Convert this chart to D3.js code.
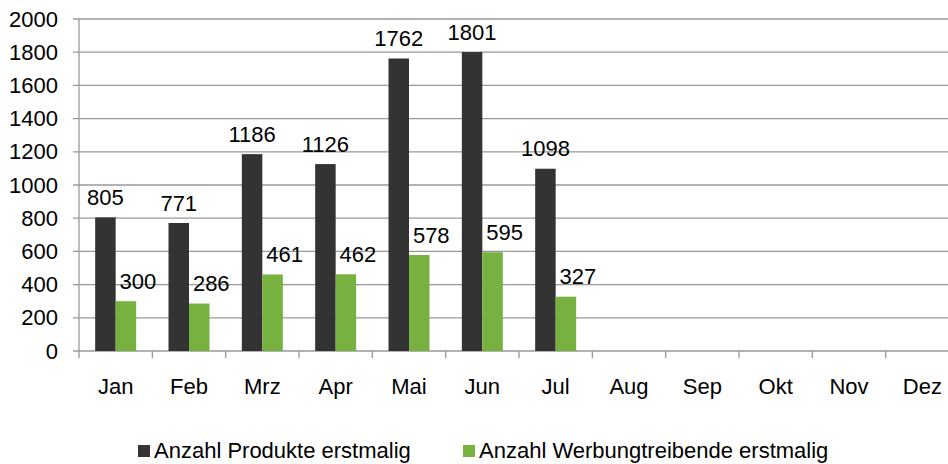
<!DOCTYPE html>
<html>
<head>
<meta charset="utf-8">
<script src="https://cdn.jsdelivr.net/npm/d3@7"></script>
<style>
  body { margin: 0; background: #fff; }
  text { font-family: "Liberation Sans", Arial, sans-serif; fill: #000; }
</style>
</head>
<body>
<svg id="chart" width="948" height="464"></svg>
<script>
const MONTHS = ["Jan", "Feb", "Mrz", "Apr", "Mai", "Jun", "Jul", "Aug", "Sep", "Okt", "Nov", "Dez"]
const SERIES = ["Anzahl Produkte erstmalig", "Anzahl Werbungtreibende erstmalig"]
const PRODUKTE = [805, 771, 1186, 1126, 1762, 1801, 1098, null, null, null, null, null]
const WERBUNG = [300, 286, 461, 462, 578, 595, 327, null, null, null, null, null]
const Y_TICKS = [0, 200, 400, 600, 800, 1000, 1200, 1400, 1600, 1800, 2000]
const COLORS = ["#333333", "#77b13f"]

const svg = d3.select('#chart')
const fontSize = 22

// plot area (right edge runs past the picture, like the original crop)
const plotLeft = 79, plotRight = 959, plotTop = 19, plotBottom = 351

const x = d3.scaleBand().domain(MONTHS).range([plotLeft, plotRight])
const inner = d3.scaleBand().domain(SERIES).range([0, 41]).padding(0)
const groupOffset = (x.bandwidth() - 41) / 2
const y = d3.scaleLinear().domain([0, 2000]).range([plotBottom, plotTop])

// gridlines
svg.append('g')
  .selectAll('line')
  .data(Y_TICKS)
  .join('line')
  .attr('x1', plotLeft - 6)
  .attr('x2', plotRight)
  .attr('y1', d => y(d))
  .attr('y2', d => y(d))
  .attr('stroke', '#999')
  .attr('stroke-width', 1.3)

// y axis labels
svg.append('g')
  .selectAll('text')
  .data(Y_TICKS)
  .join('text')
  .attr('x', 58)
  .attr('y', d => y(d))
  .attr('text-anchor', 'end')
  .attr('dominant-baseline', 'central')
  .style('font-size', fontSize + 'px')
  .text(d => d)

// y axis line
svg.append('line')
  .attr('x1', plotLeft).attr('x2', plotLeft)
  .attr('y1', plotTop).attr('y2', plotBottom)
  .attr('stroke', '#999').attr('stroke-width', 1.3)

// x axis ticks
svg.append('g')
  .selectAll('line')
  .data(d3.range(MONTHS.length + 1))
  .join('line')
  .attr('x1', i => plotLeft + i * x.step())
  .attr('x2', i => plotLeft + i * x.step())
  .attr('y1', plotBottom)
  .attr('y2', plotBottom + 7)
  .attr('stroke', '#999').attr('stroke-width', 1.3)

svg.append('g')
  .selectAll('text')
  .data(MONTHS)
  .join('text')
  .attr('x', d => x(d) + x.bandwidth() / 2)
  .attr('y', 394)
  .attr('text-anchor', 'middle')
  .style('font-size', fontSize + 'px')
  .text(d => d)

// bars
const rows = []
MONTHS.forEach((m, i) => {
  if (PRODUKTE[i] != null) rows.push({ month: m, series: SERIES[0], value: PRODUKTE[i], idx: 0 })
  if (WERBUNG[i] != null) rows.push({ month: m, series: SERIES[1], value: WERBUNG[i], idx: 1 })
})

svg.append('g')
  .selectAll('rect')
  .data(rows)
  .join('rect')
  .attr('x', d => x(d.month) + groupOffset + inner(d.series))
  .attr('y', d => y(d.value))
  .attr('width', inner.bandwidth())
  .attr('height', d => plotBottom - y(d.value))
  .attr('fill', d => COLORS[d.idx])

// value labels (green ones sit slightly right of their bar)
svg.append('g')
  .selectAll('text')
  .data(rows)
  .join('text')
  .attr('x', d => x(d.month) + groupOffset + inner(d.series) + inner.bandwidth() / 2 + (d.idx === 1 ? 12 : 0))
  .attr('y', d => y(d.value) - 20)
  .attr('text-anchor', 'middle')
  .attr('dominant-baseline', 'central')
  .style('font-size', fontSize + 'px')
  .text(d => d.value)

// legend
const legendItems = [{ x: 138, label: SERIES[0], color: COLORS[0] }, { x: 463, label: SERIES[1], color: COLORS[1] }]
const legend = svg.append('g')
legend.selectAll('rect')
  .data(legendItems)
  .join('rect')
  .attr('x', d => d.x)
  .attr('y', 445)
  .attr('width', 12)
  .attr('height', 12)
  .attr('fill', d => d.color)
legend.selectAll('text')
  .data(legendItems)
  .join('text')
  .attr('x', d => d.x + 16)
  .attr('y', 458)
  .style('font-size', fontSize + 'px')
  .text(d => d.label)
</script>
</body>
</html>
